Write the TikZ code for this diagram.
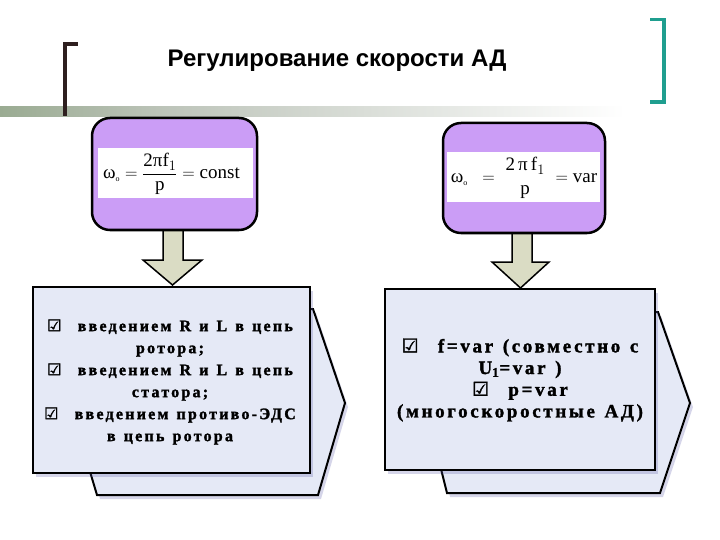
\documentclass[tikz,border=0pt]{standalone}
\usepackage{fontspec}
\setmainfont{Liberation Serif}
\newfontfamily\titlefont{Liberation Sans}
\newfontfamily\symfont[FakeBold=2]{DejaVu Sans Bold}
\newfontfamily\boxfont[LetterSpace=14,WordSpace=1.6,FakeBold=1.6]{Liberation Serif Bold}
\newfontfamily\boxfontr[LetterSpace=14,WordSpace=1.3,FakeBold=1.6]{Liberation Serif Bold}
\usetikzlibrary{shadows}
\definecolor{lilac}{HTML}{CB9DF6}
\definecolor{boxfill}{HTML}{E5E9F6}
\definecolor{arrfill}{HTML}{DADCC4}
\definecolor{bracketdark}{HTML}{2E1F1F}
\definecolor{teal1}{HTML}{1F9E8F}
\definecolor{sage}{HTML}{9AAB92}
\newcommand{\cbx}{{\symfont\char"2611}}
\newcommand{\tx}[1]{\hbox{#1}}
\tikzset{
  topbox/.style={draw=black, line width=2.5pt, fill=lilac, rounded corners=18pt},
  band/.style={fill=white, draw=none},
  blockarrow/.style={draw=black, line width=1.5pt, fill=arrfill, line join=miter},
  backshape/.style={draw=black, line width=2pt, fill=boxfill, line join=miter,
    drop shadow={shadow xshift=3pt, shadow yshift=-4pt, opacity=0.25, fill=blue!30!gray}},
  frontbox/.style={draw=black, line width=2.5pt, fill=boxfill,
    drop shadow={shadow xshift=3pt, shadow yshift=-4pt, opacity=0.25, fill=blue!30!gray}},
  boxtext/.style={align=center, font=\boxfont\fontsize{16}{22}\selectfont},
  boxtextr/.style={align=center, font=\boxfontr\fontsize{19}{21.7}\selectfont},
  formula/.style={font=\fontsize{19}{22}\selectfont, inner sep=0pt},
}
\begin{document}
\begin{tikzpicture}[x=1pt, y=-1pt]
\useasboundingbox (0,0) rectangle (720,540);
% gradient bar
\shade[left color=sage, right color=sage!70!gray!60] (0,107) rectangle (170,117);
\shade[left color=sage!70!gray!60, right color=white] (170,107) rectangle (625,117);
% brackets
\fill[bracketdark] (63,42) rectangle (67,116);
\fill[bracketdark] (63,42) rectangle (78,46);
\fill[teal1] (662,18) rectangle (666,104);
\fill[teal1] (650,18) rectangle (666,21.5);
\fill[teal1] (650,100.5) rectangle (666,104);
% title
\node[font=\titlefont\bfseries\fontsize{24}{28}\selectfont] (title) at (337,61) {Регулирование скорости АД};
% lower left
\draw[backshape] (300,309) -- (313,309) -- (345,403) -- (318,495) -- (97,495) -- (88,465) -- cycle;
\node[frontbox, minimum width=277pt, minimum height=186pt, inner sep=0pt] (lbox) at (171.5,380) {};
\node[boxtext] (ltext) at (170,382) {\cbx\ \ введением R и L в цепь\\ротора;\\\cbx\ \ введением R и L в цепь\\статора;\\\cbx\ \ введением противо-ЭДС\\в цепь ротора};
% lower right
\draw[backshape] (645,312) -- (658,312) -- (690,403) -- (660,493) -- (447,493) -- (440,465) -- cycle;
\node[frontbox, minimum width=270pt, minimum height=181pt, inner sep=0pt] (rbox) at (520,379.5) {};
\node[boxtextr] (rtext) at (520,380) {\cbx\ \ f=var (совместно с\\U\textsubscript{1}=var )\\\cbx\ \ p=var\\(многоскоростные АД)};
% arrows
\draw[blockarrow] (163,229) -- (163,260) -- (143,260) -- (172.5,285) -- (202,260) -- (183,260) -- (183,229) -- cycle;
\draw[blockarrow] (512,229) -- (512,262) -- (492,262) -- (520.5,288) -- (549,262) -- (532,262) -- (532,229) -- cycle;
% top boxes
\node[topbox, minimum width=165pt, minimum height=112pt, inner sep=0pt] (ptop) at (174.5,174) {};
\fill[band] (98,148) rectangle (253,198);
\node[formula] (lf) at (171.5,174) {$\displaystyle \tx{ω}_{\tx{\footnotesize o}} = \frac{\tx{2πf}_{1}}{\tx{p}} = \tx{const}$};
\node[topbox, minimum width=162pt, minimum height=110pt, inner sep=0pt] (qtop) at (524,178) {};
\fill[band] (447,152) rectangle (600,202);
\node[formula] (rf) at (524,178) {$\displaystyle \tx{ω}_{\tx{\footnotesize o}}\;\; = \;{\tx{2\,π\,f}_{1} \atop \tx{p}}\; = \tx{var}$};
\end{tikzpicture}
\end{document}
